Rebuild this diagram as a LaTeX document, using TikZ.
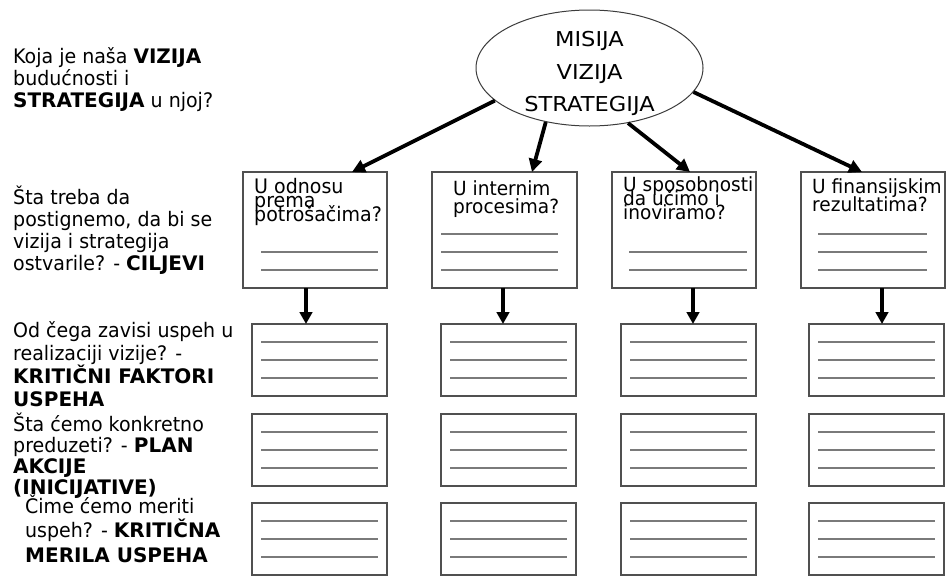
\documentclass[tikz,border=0pt]{standalone}
\usepackage{fontspec}
\setmainfont{DejaVu Sans}[FakeStretch=0.95]
\newfontfamily\heavyfont{DejaVu Sans}
\newfontfamily\ovalfont{DejaVu Sans}[FakeStretch=1.1]
\usetikzlibrary{arrows.meta,shapes.geometric}

\definecolor{framegray}{HTML}{505050}
\definecolor{rulegray}{HTML}{7A7A7A}
\definecolor{ovalgray}{HTML}{3C3C3C}

% bold words inside the question texts
\newcommand\heavy[1]{{\heavyfont\bfseries #1}}
% lines of text stacked at a fixed baseline distance; the box baseline is the first line
\newcommand\stackleft[2]{\vtop{\baselineskip=#1 \lineskip=0pt \lineskiplimit=-\maxdimen \halign{##\hfil\cr#2\crcr}}}
\newcommand\stackcenter[2]{\vtop{\baselineskip=#1 \lineskip=0pt \lineskiplimit=-\maxdimen \halign{\hfil##\hfil\cr#2\crcr}}}

\begin{document}
\begin{tikzpicture}[x=1pt,y=-1pt,
  boxframe/.style={draw=framegray,line width=1.2pt,inner sep=0pt,outer sep=0pt,anchor=north west},
  goalbox/.style={boxframe,minimum width=144pt,minimum height=116pt},
  slot/.style={boxframe,minimum width=135pt,minimum height=72pt},
  ruleline/.style={draw=rulegray,line width=1.4pt},
  toparrow/.style={line width=3.8pt,-{Triangle[length=13pt,width=13pt]}},
  droparrow/.style={line width=3.4pt,-{Triangle[length=12pt,width=12.5pt]}},
  sidetext/.style={anchor=base west,inner sep=0pt,font=\fontsize{20}{22}\selectfont},
  boxtext/.style={anchor=base west,inner sep=0pt,font=\fontsize{19.5}{19.5}\selectfont},
]
\useasboundingbox (0,0) rectangle (949,576);

% questions on the left
\node[sidetext] (q1) at (13,63) {\stackleft{22pt}{Koja je naša \heavy{VIZIJA}\cr budućnosti i\cr \heavy{STRATEGIJA} u njoj?}};
\node[sidetext] (q2) at (13,204) {\stackleft{22pt}{Šta treba da\cr postignemo, da bi se\cr vizija i strategija\cr ostvarile? - \heavy{CILJEVI}}};
\node[sidetext] (q3) at (13,337) {\stackleft{23.3pt}{Od čega zavisi uspeh u\cr realizaciji vizije? -\cr \heavy{KRITIČNI FAKTORI}\cr \heavy{USPEHA}}};
\node[sidetext] (q4) at (13,431) {\stackleft{21.3pt}{Šta ćemo konkretno\cr preduzeti? - \heavy{PLAN}\cr \heavy{AKCIJE}\cr \heavy{(INICIJATIVE)}}};
\node[sidetext] (q5) at (25,513) {\stackleft{24.5pt}{Čime ćemo meriti\cr uspeh? - \heavy{KRITIČNA}\cr \heavy{MERILA USPEHA}}};

% mission / vision / strategy oval
\node[draw=ovalgray,line width=1pt,ellipse,minimum width=227pt,minimum height=116pt,inner sep=0pt] (oval) at (589.5,68) {};
\node[anchor=base,inner sep=0pt,font=\ovalfont\fontsize{20.5}{20.5}\selectfont] (ovaltext) at ([yshift=21.3pt]oval.center) {\stackcenter{32.5pt}{MISIJA\cr VIZIJA\cr STRATEGIJA}};

% goal boxes
\node[goalbox] (g1) at (243,172) {};
\node[goalbox,minimum width=145pt] (g2) at (432,172) {};
\node[goalbox] (g3) at (612,172) {};
\node[goalbox] (g4) at (801,172) {};

\node[boxtext,font=\fontsize{20}{20}\selectfont] (g1text) at ([xshift=11pt,yshift=-21pt]g1.north west) {\stackleft{14pt}{U odnosu\cr prema\cr potrošačima?}};
\node[boxtext] (g2text) at ([xshift=21pt,yshift=-23pt]g2.north west) {\stackleft{18pt}{U internim\cr procesima?}};
\node[boxtext] (g3text) at ([xshift=11pt,yshift=-19.7pt]g3.north west) {\stackleft{14pt}{U sposobnosti\cr da učimo i\cr inoviramo?}};
\node[boxtext] (g4text) at ([xshift=11pt,yshift=-21pt]g4.north west) {\stackleft{18.5pt}{U finansijskim\cr rezultatima?}};

\foreach \k in {80,98}
  \draw[ruleline] ([xshift=18pt,yshift=-\k pt]g1.north west) -- ([xshift=-9pt,yshift=-\k pt]g1.north east);
\foreach \k in {62,80,98}
  \draw[ruleline] ([xshift=9pt,yshift=-\k pt]g2.north west) -- ([xshift=-19pt,yshift=-\k pt]g2.north east);
\foreach \k in {80,98}
  \draw[ruleline] ([xshift=17pt,yshift=-\k pt]g3.north west) -- ([xshift=-9pt,yshift=-\k pt]g3.north east);
\foreach \k in {62,80,98}
  \draw[ruleline] ([xshift=17pt,yshift=-\k pt]g4.north west) -- ([xshift=-18pt,yshift=-\k pt]g4.north east);

% three rows of answer boxes under each goal
\foreach \c/\x in {1/252,2/441,3/621,4/809} {
  \foreach \r/\y in {1/324,2/414,3/503} {
    \node[slot] (s\c\r) at (\x,\y) {};
    \foreach \k in {18,36,54}
      \draw[ruleline] ([xshift=9pt,yshift=-\k pt]s\c\r.north west) -- ([xshift=-9pt,yshift=-\k pt]s\c\r.north east);
  }
}

% arrows from the oval to the goals
\draw[toparrow] (oval.-161) -- ([xshift=-35pt]g1.north east);
\draw[toparrow] (oval.-129) -- ([xshift=100pt]g2.north west);
\draw[toparrow] (oval.-55) -- ([xshift=78pt]g3.north west);
\draw[toparrow] (oval.-13) -- ([xshift=61pt]g4.north west);

% arrows from the goals down to the answer boxes
\coordinate (d1) at ([xshift=63pt]g1.south west);
\coordinate (d2) at ([xshift=71pt]g2.south west);
\coordinate (d3) at ([xshift=81pt]g3.south west);
\coordinate (d4) at ([xshift=81pt]g4.south west);
\draw[droparrow] (d1) -- (d1 |- s11.north);
\draw[droparrow] (d2) -- (d2 |- s21.north);
\draw[droparrow] (d3) -- (d3 |- s31.north);
\draw[droparrow] (d4) -- (d4 |- s41.north);
\end{tikzpicture}
\end{document}
